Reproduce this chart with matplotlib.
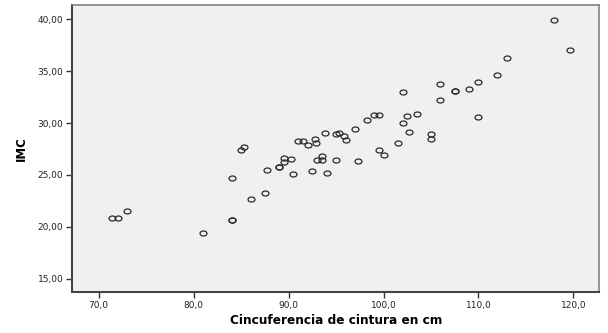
import matplotlib
matplotlib.use("Agg")
import matplotlib.pyplot as plt
from matplotlib.ticker import FuncFormatter
from matplotlib.path import Path
from matplotlib.transforms import Affine2D

cintura = [71.4, 72.0, 73.0, 81.0, 84.0, 84.0, 84.0, 85.0, 85.3, 86.0,
           87.5, 87.7, 89.0, 89.0, 89.5, 89.5, 90.3, 90.5, 91.0, 91.5,
           92.0, 92.8, 92.9, 92.5, 93.0, 93.5, 93.5, 93.8, 94.0, 95.0,
           95.3, 95.8, 96.0, 95.0, 97.0, 97.3, 98.3, 99.0, 99.5, 99.5,
           100.0, 101.5, 102.0, 102.0, 102.5, 102.7, 103.5, 105.0, 105.0, 106.0,
           106.0, 107.5, 107.5, 109.0, 110.0, 110.0, 112.0, 113.0, 118.0, 119.6]
imc = [20.86, 20.83, 21.50, 19.44, 20.66, 20.66, 24.71, 27.38, 27.70, 22.72,
       23.24, 25.48, 25.80, 25.80, 26.60, 26.25, 26.54, 25.07, 28.25, 28.25,
       27.90, 28.47, 28.08, 25.39, 26.42, 26.42, 26.83, 29.05, 25.22, 28.90,
       29.08, 28.76, 28.40, 26.47, 29.46, 26.30, 30.27, 30.81, 30.81, 27.42,
       26.96, 28.08, 30.02, 32.97, 30.68, 29.15, 30.91, 28.95, 28.47, 33.78,
       32.24, 33.07, 33.07, 33.28, 33.96, 30.63, 34.65, 36.25, 39.93, 37.07]

x_ticks = [70, 80, 90, 100, 110, 120]
y_ticks = [15, 20, 25, 30, 35, 40]

ellipse = Path.unit_circle().transformed(Affine2D().scale(1.0, 0.72))

fig = plt.figure(figsize=(6.08, 3.33), dpi=100)
ax = fig.add_axes([0.119, 0.1222, 0.8667, 0.8637])
ax.set_facecolor("#F0F0F0")

ax.plot(cintura, imc, linestyle="none", marker=ellipse, markersize=5.0,
        markerfacecolor="none", markeredgecolor="#2a2a2a", markeredgewidth=0.9)

ax.set_xlim(67.24, 122.72)
ax.set_ylim(13.69, 41.41)
ax.set_xticks(x_ticks)
ax.set_yticks(y_ticks)
ax.xaxis.set_major_formatter(FuncFormatter(lambda v, p: f"{v:.1f}".replace(".", ",")))
ax.yaxis.set_major_formatter(FuncFormatter(lambda v, p: f"{v:.2f}".replace(".", ",")))
ax.tick_params(axis="both", direction="out", length=4.5, width=1.0, color="#333333",
               labelsize=6.5, labelcolor="#222222", pad=2)

for side in ["left", "bottom"]:
    ax.spines[side].set_color("#444444")
    ax.spines[side].set_linewidth(1.5)
for side in ["top", "right"]:
    ax.spines[side].set_color("#777777")
    ax.spines[side].set_linewidth(1.1)

ax.set_xlabel("Cincuferencia de cintura en cm", fontsize=8.7, fontweight="bold", labelpad=2.5)
ax.set_ylabel("IMC", fontsize=8.5, fontweight="bold", labelpad=7)

fig.savefig("out.png", dpi=100, facecolor="white")
